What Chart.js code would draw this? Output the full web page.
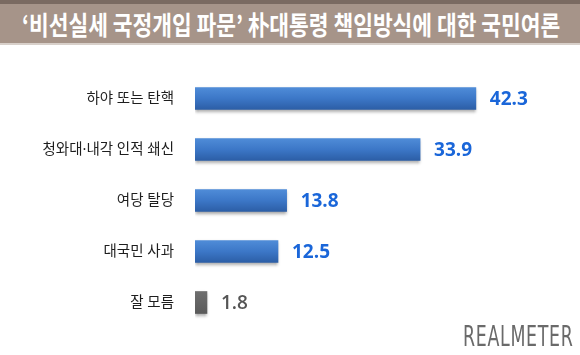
<!DOCTYPE html>
<html><head><meta charset="utf-8">
<script src="https://cdn.jsdelivr.net/npm/chart.js@4"></script>
<style>
html,body{margin:0;padding:0;background:#fff;}
#wrap{position:relative;width:580px;height:355px;overflow:hidden;}
#cv{position:absolute;left:0;top:0;}
#tb{position:absolute;left:0;top:0;width:580px;height:39px;background:#a69489;border-top:4px solid #7a6a61;box-sizing:content-box;border-bottom:2px solid #d8d0ca;}
#tt{position:absolute;left:22px;top:5px;color:#fff;font-family:"Noto Sans CJK KR";font-weight:700;font-size:26px;letter-spacing:0;white-space:nowrap;line-height:30px;transform:scaleX(0.825);transform-origin:left top;}
#logo{position:absolute;left:463px;top:323px;color:#6a6a6a;font-family:"Liberation Sans Narrow","DejaVu Sans Condensed",sans-serif;font-size:28px;line-height:28px;font-weight:400;letter-spacing:1px;transform:scaleX(0.69);transform-origin:left top;white-space:nowrap;}
</style></head>
<body><div id="wrap">
<canvas id="cv" width="580" height="355"></canvas>
<div id="tb"><div id="tt">‘비선실세 국정개입 파문’ 朴대통령 책임방식에 대한 국민여론</div></div>
<div id="logo">REALMETER</div>
</div>
<script>
const categories = ["하야 또는 탄핵", "청와대·내각 인적 쇄신", "여당 탈당", "대국민 사과", "잘 모름"];
const values = [42.3, 33.9, 13.8, 12.5, 1.8];
const valueLabels = ["42.3", "33.9", "13.8", "12.5", "1.8"];
const xMax = 50;

const BAR_H = 22;
function barFill(c){
  const chart = c.chart;
  const y = chart.scales && chart.scales.y;
  const isGray = c.dataIndex === categories.length - 1;
  if (!y || !chart.chartArea) return isGray ? '#666' : '#3a74c4';
  const cy = y.getPixelForValue(c.dataIndex);
  const g = chart.ctx.createLinearGradient(0, cy - BAR_H/2, 0, cy + BAR_H/2);
  if (isGray){
    g.addColorStop(0,'#6e6e6e'); g.addColorStop(1,'#5a5a5a');
  } else {
    g.addColorStop(0,'#4f8cd8'); g.addColorStop(0.5,'#3c77c7'); g.addColorStop(1,'#2c5ea6');
  }
  return g;
}

const shadowPlugin = {
  id:'shadow',
  beforeDatasetsDraw(chart){
    const ctx = chart.ctx; ctx.save();
    ctx.shadowColor='rgba(0,0,0,0.35)'; ctx.shadowBlur=3; ctx.shadowOffsetY=2; ctx.shadowOffsetX=0;
  },
  afterDatasetsDraw(chart){
    chart.ctx.restore();
    const ctx = chart.ctx;
    const meta = chart.getDatasetMeta(0);
    ctx.save();
    ctx.textBaseline='middle'; ctx.textAlign='left';
    meta.data.forEach((bar,i)=>{
      const isGray = i === categories.length - 1;
      ctx.font = (isGray ? '600 ' : 'bold ') + '19px "Open Sans", "Noto Sans", sans-serif';
      ctx.fillStyle = isGray ? '#555555' : '#1a66d9';
      ctx.fillText(valueLabels[i], bar.x + 14, bar.y + 1);
    });
    ctx.restore();
  }
};

new Chart(document.getElementById('cv'), {
  type:'bar',
  data:{ labels:categories, datasets:[{ data:values, backgroundColor:barFill, barThickness:BAR_H, borderWidth:0 }]},
  options:{
    indexAxis:'y', responsive:false, animation:false,
    layout:{ padding:{ left:0, right:53, top:73, bottom:27 } },
    plugins:{ legend:{display:false}, tooltip:{enabled:false}, title:{display:false} },
    scales:{
      x:{ display:false, min:0, max:xMax },
      y:{
        grid:{display:false}, border:{display:false},
        ticks:{ color:'#1e1e1e', padding:13, font:{ family:'"Noto Sans", "Noto Sans CJK KR"', size:14.5 } },
        afterFit(s){ s.width = 195; }
      }
    }
  },
  plugins:[shadowPlugin]
});
</script>
</body></html>
